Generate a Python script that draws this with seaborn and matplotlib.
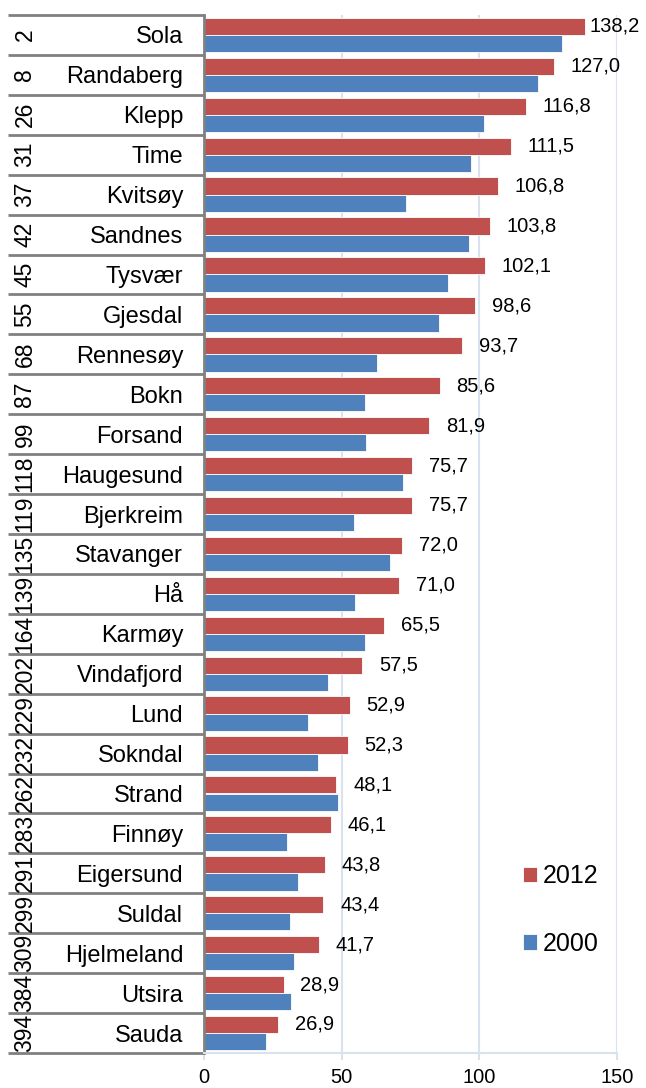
import numpy as np
import pandas as pd
import matplotlib
matplotlib.use('Agg')
import matplotlib.pyplot as plt
import seaborn as sns

# data
kommuner = ['Sola', 'Randaberg', 'Klepp', 'Time', 'Kvitsøy', 'Sandnes', 'Tysvær',
            'Gjesdal', 'Rennesøy', 'Bokn', 'Forsand', 'Haugesund', 'Bjerkreim',
            'Stavanger', 'Hå', 'Karmøy', 'Vindafjord', 'Lund', 'Sokndal', 'Strand',
            'Finnøy', 'Eigersund', 'Suldal', 'Hjelmeland', 'Utsira', 'Sauda']
rank = [2, 8, 26, 31, 37, 42, 45, 55, 68, 87, 99, 118, 119, 135, 139, 164, 202,
        229, 232, 262, 283, 291, 299, 309, 384, 394]
v2012 = [138.2, 127.0, 116.8, 111.5, 106.8, 103.8, 102.1, 98.6, 93.7, 85.6, 81.9,
         75.7, 75.7, 72.0, 71.0, 65.5, 57.5, 52.9, 52.3, 48.1, 46.1, 43.8, 43.4,
         41.7, 28.9, 26.9]
v2000 = [130.0, 121.3, 101.7, 97.0, 73.4, 96.3, 88.8, 85.5, 62.8, 58.5, 58.7,
         72.3, 54.5, 67.6, 54.7, 58.4, 45.1, 37.9, 41.5, 48.5, 30.2, 34.1, 31.1,
         32.8, 31.6, 22.4]
years = ['2012', '2000']
x_ticks = [0, 50, 100, 150]

RED = '#C0504D'
BLUE = '#4F81BD'
GRID = '#D9E3F0'
LINE = '#808080'

sns.set_style('white')
plt.rcParams['font.family'] = ['Liberation Sans', 'DejaVu Sans']
plt.rcParams['text.color'] = 'black'
plt.rcParams['xtick.labelcolor'] = 'black'
plt.rcParams['ytick.labelcolor'] = 'black'

df = pd.DataFrame({
    'kommune': kommuner * 2,
    'verdi': v2012 + v2000,
    'år': ['2012'] * len(kommuner) + ['2000'] * len(kommuner),
})

W, H = 646, 1088
fig = plt.figure(figsize=(W / 100, H / 100), dpi=100)
ax = fig.add_axes([204 / W, (H - 1053) / H, 413 / W, 1038 / H])

sns.barplot(data=df, y='kommune', x='verdi', hue='år', hue_order=years,
            palette=[RED, BLUE], orient='h', width=0.86, saturation=1,
            edgecolor='white', linewidth=0.6, ax=ax)

n = len(kommuner)
ax.set_xlim(0, 150)
ax.set_xticks(x_ticks)
ax.set_xticklabels([str(t) for t in x_ticks], fontsize=14.5)
ax.set_xlabel('')
ax.set_ylabel('')
ax.xaxis.grid(True, color=GRID, linewidth=1.5)
ax.set_axisbelow(True)
ax.tick_params(axis='x', length=5, width=1.5, color=GRID, pad=6, bottom=True)
ax.tick_params(axis='y', length=0, pad=15, labelsize=17)
for s in ['top', 'right']:
    ax.spines[s].set_visible(False)
ax.spines['bottom'].set_color(GRID)
ax.spines['bottom'].set_linewidth(1.5)
ax.spines['left'].set_color(LINE)
ax.spines['left'].set_linewidth(2)

# table lines and rank numbers on the left
ytr = ax.get_yaxis_transform()
x_left = (8 - 204) / 413
ax.hlines(np.arange(n + 1) - 0.5, x_left, 0, transform=ytr,
          color=LINE, linewidth=2, clip_on=False)
for i, r in enumerate(rank):
    ax.text((25 - 204) / 413, i, str(r), transform=ytr, rotation=90,
            ha='center', va='center', fontsize=16.5, clip_on=False)

# value labels for 2012
for bar, v in zip(ax.containers[0], v2012):
    pad = 12 if v < 135 else 3.5
    ax.annotate(f'{v:.1f}'.replace('.', ','),
                xy=(bar.get_width(), bar.get_y() + bar.get_height() / 2),
                xytext=(pad, 0), textcoords='offset points',
                ha='left', va='center', fontsize=14.5, annotation_clip=False)

ax.set_ylim(n - 0.5, -0.5)

handles, labels = ax.get_legend_handles_labels()
ax.legend(handles, labels, loc='upper left',
          bbox_to_anchor=(523 / W, 1 - 864 / H), bbox_transform=fig.transFigure,
          frameon=False, borderpad=0, borderaxespad=0, fontsize=18,
          handlelength=0.56, handleheight=0.56, handletextpad=0.25,
          labelspacing=1.75, title=None)

fig.savefig('out.png', dpi=100, facecolor='white')
